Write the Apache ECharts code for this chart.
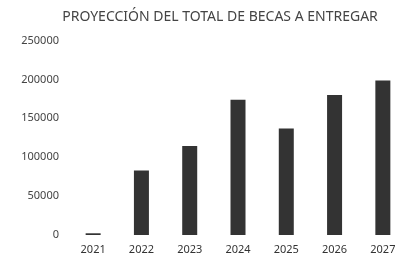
<!DOCTYPE html>
<html lang="es">
<head>
    <meta charset="UTF-8">
    <title>Proyección becas</title>
    <script src="https://cdn.jsdelivr.net/npm/echarts@6/dist/echarts.min.js"></script>
    <style>
        html, body { margin: 0; padding: 0; background: #fff; }
        #chart { width: 398px; height: 256px; }
    </style>
</head>
<body>
<div id="chart"></div>
<script>
    // datos
    var years = ['2021', '2022', '2023', '2024', '2025', '2026', '2027'];
    var becas = [2200, 83000, 114500, 174000, 137000, 180000, 198500];
    var yTicks = { min: 0, max: 250000, interval: 50000 };

    var chart = echarts.init(document.getElementById('chart'));
    var font = 'Noto Sans';
    var option = {
        animation: false,
        backgroundColor: '#fff',
        title: {
            text: 'PROYECCIÓN DEL TOTAL DE BECAS A ENTREGAR',
            left: 215,
            top: 5,
            textAlign: 'center',
            textStyle: { fontFamily: font, fontSize: 14, fontWeight: 'normal', color: '#444' }
        },
        grid: { left: 69, width: 338, top: 40.5, bottom: 21, outerBoundsMode: 'none', containLabel: false },
        xAxis: {
            type: 'category',
            data: years,
            axisLine: { show: false },
            axisTick: { show: false },
            axisLabel: { margin: 9, fontFamily: font, fontSize: 11, color: '#333' }
        },
        yAxis: {
            type: 'value',
            min: yTicks.min,
            max: yTicks.max,
            interval: yTicks.interval,
            splitLine: { show: false },
            axisLine: { show: false },
            axisTick: { show: false },
            axisLabel: {
                margin: 10, fontFamily: font, fontSize: 11, color: '#444',
                formatter: function (v) { return String(v); }
            }
        },
        series: [{
            type: 'bar',
            data: becas,
            barWidth: 15,
            itemStyle: { color: '#333' }
        }]
    };
    chart.setOption(option);
</script>
</body>
</html>
